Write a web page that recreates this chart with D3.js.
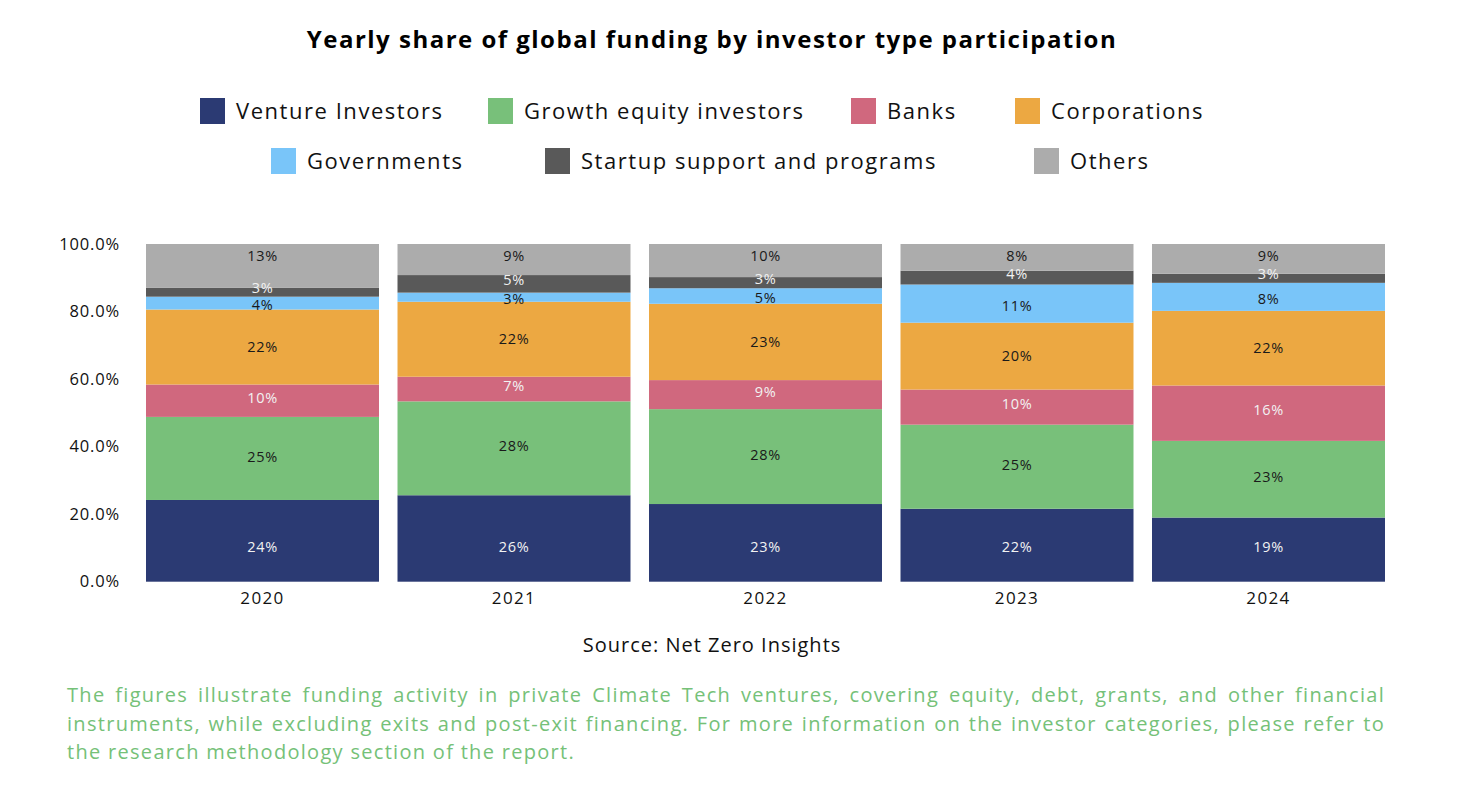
<!DOCTYPE html>
<html>
<head>
<meta charset="utf-8">
<script src="https://cdn.jsdelivr.net/npm/d3@7"></script>
<style>
  html, body { margin: 0; padding: 0; background: #ffffff; }
  svg { display: block; }
  text { font-family: "Open Sans", "Noto Sans", sans-serif; }
</style>
</head>
<body>
<svg id="chart" width="1470" height="792"></svg>
<script>
// ---------------- DATA ----------------
const years = ["2020", "2021", "2022", "2023", "2024"];
const seriesNames = ["Venture Investors", "Growth equity investors", "Banks", "Corporations",
                     "Governments", "Startup support and programs", "Others"];
const ventureInvestors   = [24.2, 25.6, 23.0, 21.6, 19.0];
const growthEquity       = [24.6, 27.8, 28.1, 24.9, 22.7];
const banks              = [9.6, 7.3, 8.6, 10.4, 16.4];
const corporations       = [22.2, 22.2, 22.6, 19.8, 22.1];
const governments        = [3.8, 2.7, 4.6, 11.3, 8.3];
const startupSupport     = [2.6, 5.2, 3.3, 4.1, 2.7];
const others             = [13.0, 9.2, 9.8, 7.9, 8.8];
const yTicks = [0, 0.2, 0.4, 0.6, 0.8, 1.0];
const titleText = "Yearly share of global funding by investor type participation";
const sourceText = "Source: Net Zero Insights";
const footLines = [
  "The figures illustrate funding activity in private Climate Tech ventures, covering equity, debt, grants, and other financial",
  "instruments, while excluding exits and post-exit financing. For more information on the investor categories, please refer to",
  "the research methodology section of the report."
];

// ---------------- STYLE / LAYOUT ----------------
const colors = ["#2b3a73", "#78c07a", "#d0687e", "#eca842", "#79c5f9", "#595959", "#acacac"];
const labelColors = ["#f2f2f2", "#1a1a1a", "#f2f2f2", "#1a1a1a", "#1a1a1a", "#f2f2f2", "#1a1a1a"];
const legendLayout = [[200, 98], [488, 98], [851, 98], [1015, 98], [271, 148], [545, 148], [1034, 148]];
// vertical label nudges (px) per series, to keep small-segment labels apart
const labelNudge = [0, -2, -3, 0, 2, -4, 0];

const seriesValues = [ventureInvestors, growthEquity, banks, corporations, governments, startupSupport, others];
const rows = years.map((y, i) => {
  const r = { year: y };
  seriesNames.forEach((s, k) => { r[s] = seriesValues[k][i]; });
  return r;
});

const svg = d3.select("#chart");

const x = d3.scaleBand().domain(years).range([136.75, 1394.25]).paddingInner(0.0736).paddingOuter(0.0368);
const y = d3.scaleLinear().domain([0, 1]).range([581.7, 244]);

const stack = d3.stack().keys(seriesNames).offset(d3.stackOffsetExpand);
const stacked = stack(rows);

// Title
svg.append("text")
  .attr("x", 712).attr("y", 48)
  .attr("text-anchor", "middle")
  .attr("font-size", 24).attr("font-weight", 700).attr("fill", "#000")
  .attr("letter-spacing", "0.062em")
  .text(titleText);

// Legend
const leg = svg.append("g");
seriesNames.forEach((s, k) => {
  const [lx, ly] = legendLayout[k];
  leg.append("rect").attr("x", lx).attr("y", ly).attr("width", 25).attr("height", 26).attr("fill", colors[k]);
  leg.append("text").attr("x", lx + 36).attr("y", ly + 13).attr("dy", "0.35em")
    .attr("font-size", 22).attr("fill", "#111")
    .attr("letter-spacing", "0.07em")
    .text(s);
});

// Bars
const layers = svg.append("g").selectAll("g").data(stacked).join("g")
  .attr("fill", (d, k) => colors[k]);
layers.selectAll("rect").data(d => d).join("rect")
  .attr("x", d => x(d.data.year))
  .attr("width", x.bandwidth())
  .attr("y", d => y(d[1]))
  .attr("height", d => y(d[0]) - y(d[1]));

// Segment labels
const lbl = svg.append("g");
stacked.forEach((layer, k) => {
  layer.forEach((d, i) => {
    const raw = seriesValues[k][i];
    let cy = (y(d[0]) + y(d[1])) / 2 + labelNudge[k];
    if (k === 0) cy = y(d[0]) - 35;                       // bottom series label
    if (k === seriesNames.length - 1) cy = y(d[1]) + 12;  // top series label
    lbl.append("text")
      .attr("x", x(d.data.year) + x.bandwidth() / 2)
      .attr("y", cy)
      .attr("dy", "0.35em")
      .attr("text-anchor", "middle")
      .attr("font-size", 14.5)
      .attr("letter-spacing", "0.05em")
      .attr("fill", labelColors[k])
      .text(Math.round(raw) + "%");
  });
});

// Y axis
const yAxis = svg.append("g").attr("transform", "translate(126,0)")
  .call(d3.axisLeft(y).tickValues(yTicks).tickFormat(d3.format(".1%")).tickSize(0).tickPadding(6));
yAxis.select(".domain").remove();
yAxis.selectAll("text").attr("font-size", 16.5).attr("fill", "#111")
  .attr("letter-spacing", "0.05em")
  .style("font-family", "'Open Sans', sans-serif");

// X axis
const xAxis = svg.append("g").attr("transform", "translate(0,581.7)")
  .call(d3.axisBottom(x).tickSize(0).tickPadding(10));
xAxis.select(".domain").remove();
xAxis.selectAll("text").attr("font-size", 17).attr("fill", "#111")
  .attr("letter-spacing", "0.08em")
  .style("font-family", "'Open Sans', sans-serif");

// Source
svg.append("text")
  .attr("x", 712).attr("y", 652)
  .attr("text-anchor", "middle")
  .attr("font-size", 20).attr("fill", "#111")
  .attr("letter-spacing", "0.05em")
  .text(sourceText);

// Footnote (justified)
const footLeft = 67, footRight = 1385;
footLines.forEach((line, i) => {
  const t = svg.append("text")
    .attr("x", footLeft).attr("y", 702 + i * 28.5)
    .attr("font-size", 20).attr("fill", "#75c178")
    .attr("letter-spacing", "0.065em")
    .text(line);
  if (i < footLines.length - 1) {
    const w = t.node().getComputedTextLength();
    const spaces = (line.match(/ /g) || []).length;
    const extra = (footRight - footLeft - w) / spaces;
    t.attr("word-spacing", extra);
  }
});
</script>
</body>
</html>
